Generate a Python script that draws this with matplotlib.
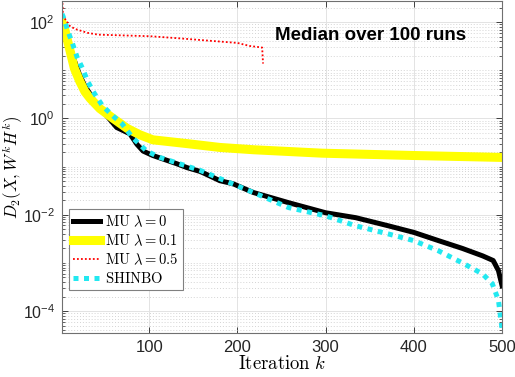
import numpy as np
import matplotlib
matplotlib.use("Agg")
import matplotlib.pyplot as plt
from matplotlib.ticker import LogLocator, FixedLocator, NullFormatter

plt.rcParams['font.family'] = ['Liberation Sans', 'DejaVu Sans']
plt.rcParams['mathtext.fontset'] = 'custom'
plt.rcParams['mathtext.rm'] = 'Liberation Sans'
plt.rcParams['mathtext.it'] = 'Liberation Sans:italic'
plt.rcParams['mathtext.bf'] = 'Liberation Sans:bold'

# ---- data ----
it_mu0 = [1, 5, 10, 15, 21, 27, 33, 38, 44, 52, 63, 78, 86, 93, 104, 131, 143, 158, 180,
          195, 218, 258, 300, 334, 371, 400, 428, 455, 478, 490, 496, 500]
val_mu0 = [112, 63, 32, 16, 8.0, 4.7, 3.2, 2.2, 1.66, 1.12, 0.65, 0.48, 0.29, 0.21, 0.17,
           0.115, 0.095, 0.079, 0.051, 0.044, 0.029, 0.0178, 0.011, 0.0087, 0.0059, 0.0043,
           0.0029, 0.0020, 0.0014, 0.00112, 0.00069, 0.00034]

it_mu01 = [1, 4, 10, 15, 21, 27, 33, 44, 59, 75, 89, 104, 143, 180, 218, 296, 400, 500]
val_mu01 = [100, 72, 26, 11, 6.0, 3.6, 2.6, 1.6, 1.0, 0.62, 0.46, 0.36, 0.30, 0.25, 0.224,
            0.19, 0.17, 0.155]

it_mu05 = [1, 2, 4, 10, 16, 30, 42, 101, 135, 200, 214, 228, 229]
val_mu05 = [400, 150, 120, 83, 72, 60, 55, 51, 46, 37, 32, 29.7, 13.8]

it_shinbo = [1, 2, 7, 13, 18, 24, 30, 36, 47, 59, 69, 81, 97, 112, 158, 218, 258, 300, 334,
             371, 400, 428, 455, 478, 489, 496, 500]
val_shinbo = [148, 135, 71, 35.5, 19, 11.2, 6.0, 3.7, 1.82, 1.12, 0.78, 0.40, 0.21, 0.155,
              0.083, 0.029, 0.0141, 0.0095, 0.0059, 0.0040, 0.0029, 0.00178, 0.0010,
              0.00059, 0.00037, 0.000166, 0.0000437]

labels = [r'$\mathrm{MU}\ \lambda = 0$', r'$\mathrm{MU}\ \lambda = 0.1$',
          r'$\mathrm{MU}\ \lambda = 0.5$', r'$\mathrm{SHINBO}$']
x_ticks = [100, 200, 300, 400, 500]
y_ticks = [1e-4, 1e-2, 1e0, 1e2]

fig = plt.figure(figsize=(5.15, 3.77), dpi=100)
ax = fig.add_axes([62/515, 44/377, 440/515, 332/377])

h1, = ax.plot(it_mu0, val_mu0, color='black', lw=3.6, solid_joinstyle='round', label=labels[0])
h2, = ax.plot(it_mu01, val_mu01, color='#FFFF00', lw=6.5, solid_joinstyle='round', label=labels[1])
h3, = ax.plot(it_mu05, val_mu05, color='#FF0000', lw=1.3, ls=(0, (1, 1.2)), label=labels[2])
h4, = ax.plot(it_shinbo, val_shinbo, color='#22E8F0', lw=3.6, ls=(0, (1, 1.1)), label=labels[3])

ax.set_yscale('log')
ax.set_xlim(1, 500)
ax.set_ylim(3.5e-5, 275)
ax.xaxis.set_major_locator(FixedLocator(x_ticks))
ax.yaxis.set_major_locator(FixedLocator(y_ticks))
ax.yaxis.set_minor_locator(LogLocator(base=10, subs=np.arange(1, 10), numticks=30))
ax.yaxis.set_minor_formatter(NullFormatter())

ax.grid(True, which='major', color='#e3e3e3', lw=0.7, ls='-')
ax.grid(True, which='minor', axis='y', color='#d4d4d4', lw=0.7, ls=(0, (1, 2)))
ax.set_axisbelow(True)

ax.tick_params(which='both', direction='in', top=True, right=True, colors='#262626',
               labelsize=12)
ax.tick_params(axis='y', labelsize=11.5)
ax.tick_params(which='major', length=4, width=0.6, pad=5)
ax.tick_params(which='minor', length=2, width=0.5)
ax.tick_params(axis='x', which='minor', bottom=False, top=False)
for s in ax.spines.values():
    s.set_color('#707070')
    s.set_linewidth(0.8)

ax.set_xlabel(r'$\mathrm{Iteration}\ k$', fontsize=13.5, math_fontfamily='cm', labelpad=0)
ax.set_ylabel(r'$D_2(X, W^k H^k)$', fontsize=12, math_fontfamily='cm')
ax.yaxis.set_label_coords(-0.083, 0.5)

ax.text(0.918, 0.895, 'Median over 100 runs', transform=ax.transAxes, ha='right',
        va='center', fontsize=13.5, fontweight='bold')

leg = ax.legend(handles=[h1, h2, h3, h4], loc='upper left', bbox_to_anchor=(0.016, 0.373),
                borderaxespad=0, fontsize=10.5, handlelength=1.85, handletextpad=0.3,
                labelspacing=0.25, borderpad=0.3, fancybox=False, framealpha=1,
                edgecolor='#808080')
leg.get_frame().set_linewidth(0.8)
for t in leg.get_texts():
    t.set_math_fontfamily('cm')

fig.savefig('out.png', dpi=100)
